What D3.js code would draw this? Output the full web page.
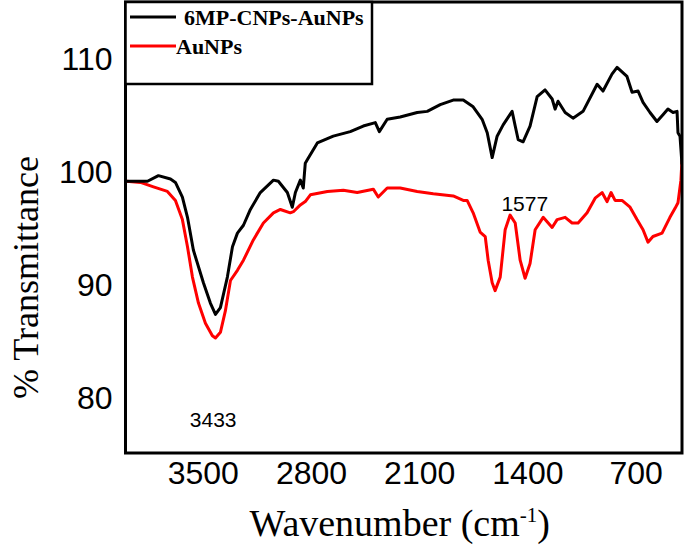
<!DOCTYPE html>
<html>
<head>
<meta charset="utf-8">
<script src="https://cdn.jsdelivr.net/npm/d3@7"></script>
<style>
  html, body { margin: 0; padding: 0; background: #fff; }
  svg { display: block; }
</style>
</head>
<body>
<svg id="chart" width="685" height="553"></svg>
<script>
// ---- data ----
const seriesNames = ["6MP-CNPs-AuNPs", "AuNPs"];
const seriesColors = ["#000000", "#ff0000"];

const wavenumberBlack = [4000, 3994, 3858, 3787, 3709, 3677, 3632, 3599, 3561, 3496, 3451, 3418, 3386, 3341, 3308, 3276, 3237, 3192, 3128, 3043, 3011, 2953, 2921, 2901, 2869, 2850, 2837, 2824, 2759, 2656, 2546, 2462, 2384, 2358, 2307, 2223, 2113, 2048, 1964, 1880, 1815, 1751, 1693, 1660, 1628, 1596, 1557, 1499, 1479, 1460, 1428, 1383, 1337, 1286, 1240, 1221, 1202, 1156, 1105, 1040, 949, 911, 853, 820, 756, 723, 684, 652, 607, 562, 523, 491, 458, 432, 426, 413, 400];
const transmittanceBlack = [99.1, 99.1, 99.1, 99.6, 99.3, 99.0, 97.7, 95.9, 93.0, 90.1, 88.3, 87.3, 87.9, 90.6, 93.3, 94.5, 95.2, 96.6, 98.1, 99.2, 99.1, 98.1, 96.8, 98.1, 99.2, 98.5, 100.7, 101.0, 102.5, 103.1, 103.5, 104.0, 104.3, 103.5, 104.6, 104.8, 105.2, 105.3, 105.9, 106.3, 106.3, 105.7, 104.6, 103.4, 101.2, 103.1, 104.1, 105.3, 104.0, 102.8, 102.6, 104.0, 106.6, 107.2, 106.4, 105.5, 106.2, 105.2, 104.7, 105.3, 107.7, 107.1, 108.6, 109.2, 108.4, 107.0, 107.1, 106.1, 105.2, 104.4, 105.0, 105.5, 105.2, 105.3, 103.4, 103.1, 100.6];

const wavenumberRed = [4000, 3994, 3903, 3819, 3729, 3677, 3632, 3599, 3567, 3528, 3483, 3438, 3418, 3386, 3354, 3321, 3276, 3237, 3173, 3108, 3043, 2998, 2934, 2914, 2869, 2837, 2804, 2694, 2591, 2501, 2397, 2365, 2307, 2223, 2113, 2009, 1880, 1815, 1790, 1751, 1706, 1673, 1654, 1628, 1609, 1576, 1544, 1512, 1479, 1447, 1415, 1383, 1350, 1298, 1240, 1208, 1156, 1111, 1072, 1014, 962, 917, 885, 859, 833, 788, 736, 691, 652, 620, 588, 529, 478, 445, 426, 407, 400];
const transmittanceRed = [99.1, 99.1, 99.0, 98.6, 98.2, 97.4, 95.7, 93.3, 90.6, 88.3, 86.5, 85.4, 85.2, 85.7, 87.6, 90.3, 91.2, 92.1, 93.9, 95.4, 96.3, 96.6, 96.3, 96.4, 97.0, 97.3, 97.9, 98.2, 98.3, 98.1, 98.4, 97.7, 98.5, 98.5, 98.2, 98.0, 97.8, 97.4, 97.4, 96.3, 94.6, 94.2, 92.1, 90.1, 89.4, 90.6, 94.8, 96.1, 95.4, 92.1, 90.5, 91.8, 94.8, 95.9, 95.0, 95.7, 95.9, 95.4, 95.4, 96.3, 97.6, 98.1, 97.3, 98.1, 97.4, 97.4, 96.8, 95.7, 94.8, 93.7, 94.2, 94.5, 95.9, 96.7, 97.2, 99.2, 101.0];

const xTicks = [3500, 2800, 2100, 1400, 700];
const yTicks = [80, 90, 100, 110];
const xDomain = [4000, 400];
const yDomain = [75, 115];

const annotations = [
  { label: "3433", wn: 3433, t: 77.3 },
  { label: "1577", wn: 1577 - 160, t: 96.5 }
];

// ---- layout ----
const svg = d3.select("#chart");
const L = 125.5, R = 682, T = 2, B = 453;

const x = d3.scaleLinear().domain(xDomain).range([L, R]);
const y = d3.scaleLinear().domain(yDomain).range([B, T]);

const line = d3.line()
  .x(d => x(d[0]))
  .y(d => y(d[1]))
  .curve(d3.curveLinear);

const blackData = wavenumberBlack.map((w, i) => [w, transmittanceBlack[i]]);
const redData = wavenumberRed.map((w, i) => [w, transmittanceRed[i]]);

svg.append("defs").append("clipPath").attr("id", "clip")
  .append("rect").attr("x", L).attr("y", T).attr("width", R - L).attr("height", B - T);

const g = svg.append("g").attr("clip-path", "url(#clip)");

g.append("path").datum(redData)
  .attr("d", line).attr("fill", "none")
  .attr("stroke", seriesColors[1]).attr("stroke-width", 3)
  .attr("stroke-linejoin", "round");

g.append("path").datum(blackData)
  .attr("d", line).attr("fill", "none")
  .attr("stroke", seriesColors[0]).attr("stroke-width", 3)
  .attr("stroke-linejoin", "round");

// axes (labels only, no tick marks)
const xAxis = d3.axisBottom(x).tickValues(xTicks).tickSize(0).tickPadding(0).tickFormat(d3.format("d"));
const gx = svg.append("g").attr("transform", `translate(0,${B})`).call(xAxis);
gx.select(".domain").remove();
gx.selectAll("text")
  .attr("dy", null).attr("y", 31)
  .style("font-family", "Arial, 'Liberation Sans', sans-serif")
  .style("font-size", "32px").attr("fill", "#000");

const yAxis = d3.axisLeft(y).tickValues(yTicks).tickSize(0).tickPadding(0).tickFormat(d3.format("d"));
const gy = svg.append("g").attr("transform", `translate(${L - 13},0)`).call(yAxis);
gy.select(".domain").remove();
gy.selectAll("text")
  .attr("dy", "0.36em")
  .style("font-family", "Arial, 'Liberation Sans', sans-serif")
  .style("font-size", "32px").attr("fill", "#000");

// frame
svg.append("rect")
  .attr("x", L).attr("y", T).attr("width", R - L).attr("height", B - T)
  .attr("fill", "none").attr("stroke", "#000").attr("stroke-width", 3);

// legend box
const legend = svg.append("g");
legend.append("rect")
  .attr("x", L).attr("y", T).attr("width", 372 - L).attr("height", 84 - T)
  .attr("fill", "#fff").attr("stroke", "#000").attr("stroke-width", 2.5);

const legendRows = [
  { name: seriesNames[0], color: seriesColors[0], ly: 17, tx: 184, ty: 25 },
  { name: seriesNames[1], color: seriesColors[1], ly: 46, tx: 176, ty: 54 }
];
legendRows.forEach(r => {
  legend.append("line")
    .attr("x1", 130).attr("x2", 176).attr("y1", r.ly).attr("y2", r.ly)
    .attr("stroke", r.color).attr("stroke-width", 3);
  legend.append("text")
    .attr("x", r.tx).attr("y", r.ty)
    .style("font-family", "'Times New Roman', 'Liberation Serif', serif")
    .style("font-weight", "bold").style("font-size", "22px")
    .attr("fill", "#000").text(r.name);
});

// annotations
annotations.forEach(a => {
  svg.append("text")
    .attr("x", x(a.wn)).attr("y", y(a.t))
    .attr("text-anchor", "middle")
    .style("font-family", "Arial, 'Liberation Sans', sans-serif")
    .style("font-size", "21px").attr("fill", "#000")
    .text(a.label);
});

// axis titles
const xt = svg.append("text")
  .attr("x", (L + R) / 2 - 4).attr("y", 536)
  .attr("text-anchor", "middle")
  .style("font-family", "'Times New Roman', 'Liberation Serif', serif")
  .style("font-size", "38px").attr("fill", "#000");
xt.append("tspan").text("Wavenumber (cm");
xt.append("tspan").attr("dy", -14).style("font-size", "21px").text("-1");
xt.append("tspan").attr("dy", 14).text(")");

svg.append("text")
  .attr("transform", `translate(38,${(T + B) / 2 + 50}) rotate(-90)`)
  .attr("text-anchor", "middle")
  .style("font-family", "'Times New Roman', 'Liberation Serif', serif")
  .style("font-size", "36px").attr("fill", "#000")
  .text("% Transmittance");
</script>
</body>
</html>
